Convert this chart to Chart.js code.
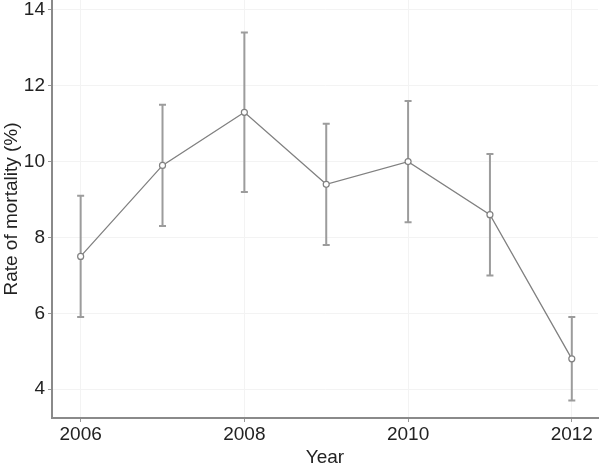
<!DOCTYPE html>
<html>
<head>
<meta charset="utf-8">
<script src="https://cdn.jsdelivr.net/npm/chart.js@4/dist/chart.umd.min.js"></script>
<style>
html,body{margin:0;padding:0;background:#fff;}
#wrap{width:600px;height:471px;position:relative;}
</style>
</head>
<body>
<div id="wrap"><canvas id="c"></canvas></div>
<script>
const years = [2006, 2007, 2008, 2009, 2010, 2011, 2012];
const mortality = [7.5, 9.9, 11.3, 9.4, 10.0, 8.6, 4.8];
const lowerCI = [5.9, 8.3, 9.2, 7.8, 8.4, 7.0, 3.7];
const upperCI = [9.1, 11.5, 13.4, 11.0, 11.6, 10.2, 5.9];
const xTickLabels = [2006, 2008, 2010, 2012];
const yTickLabels = [4, 6, 8, 10, 12, 14];

const FONT = 'Liberation Sans, Arial, sans-serif';

const errorBars = {
  id: 'errorBars',
  beforeDatasetsDraw(chart) {
    const ctx = chart.ctx;
    const xs = chart.scales.x, ys = chart.scales.y;
    ctx.save();
    ctx.strokeStyle = '#9c9c9c';
    ctx.lineWidth = 2;
    years.forEach((yr, i) => {
      const px = xs.getPixelForValue(yr);
      const lo = ys.getPixelForValue(lowerCI[i]);
      const hi = ys.getPixelForValue(upperCI[i]);
      ctx.beginPath();
      ctx.moveTo(px, lo); ctx.lineTo(px, hi);
      ctx.moveTo(px - 3.5, lo); ctx.lineTo(px + 3.5, lo);
      ctx.moveTo(px - 3.5, hi); ctx.lineTo(px + 3.5, hi);
      ctx.stroke();
    });
    ctx.restore();
  }
};

new Chart(document.getElementById('c'), {
  type: 'line',
  data: {
    datasets: [{
      data: years.map((y, i) => ({x: y, y: mortality[i]})),
      borderColor: '#808080',
      borderWidth: 1.3,
      pointRadius: 3,
      pointBackgroundColor: '#ffffff',
      pointBorderColor: '#808080',
      pointBorderWidth: 1.2,
      tension: 0,
      fill: false
    }]
  },
  options: {
    responsive: true,
    maintainAspectRatio: false,
    animation: false,
    layout: {autoPadding: false, padding: {top: 0, right: 2, left: 0, bottom: 0}},
    plugins: {legend: {display: false}, tooltip: {enabled: false}},
    scales: {
      x: {
        type: 'linear',
        min: 2005.65,
        max: 2012.32,
        afterBuildTicks: s => { s.ticks = xTickLabels.map(v => ({value: v})); },
        afterFit: s => { s.height = 53; s.paddingLeft = 0; s.paddingRight = 0; },
        grid: {color: '#f3f3f3', lineWidth: 1, tickColor: '#999', tickLength: 4},
        border: {color: '#8a8a8a', width: 2},
        ticks: {color: '#222', font: {family: FONT, size: 19}, padding: 1, maxRotation: 0, callback: v => String(v)},
        title: {display: true, text: 'Year', color: '#222', font: {family: FONT, size: 19}, padding: {top: 0, bottom: 2}}
      },
      y: {
        min: 3.24,
        max: 14.26,
        afterBuildTicks: s => { s.ticks = yTickLabels.map(v => ({value: v})); },
        afterFit: s => { s.width = 52; s.paddingTop = 0; s.paddingBottom = 0; },
        grid: {color: '#f3f3f3', lineWidth: 1, tickColor: '#999', tickLength: 4},
        border: {color: '#8a8a8a', width: 2},
        ticks: {color: '#222', font: {family: FONT, size: 19}, padding: 3},
        title: {display: true, text: 'Rate of mortality (%)', color: '#222', font: {family: FONT, size: 19}, padding: {top: 0, bottom: 0}}
      }
    }
  },
  plugins: [errorBars]
});
</script>
</body>
</html>
